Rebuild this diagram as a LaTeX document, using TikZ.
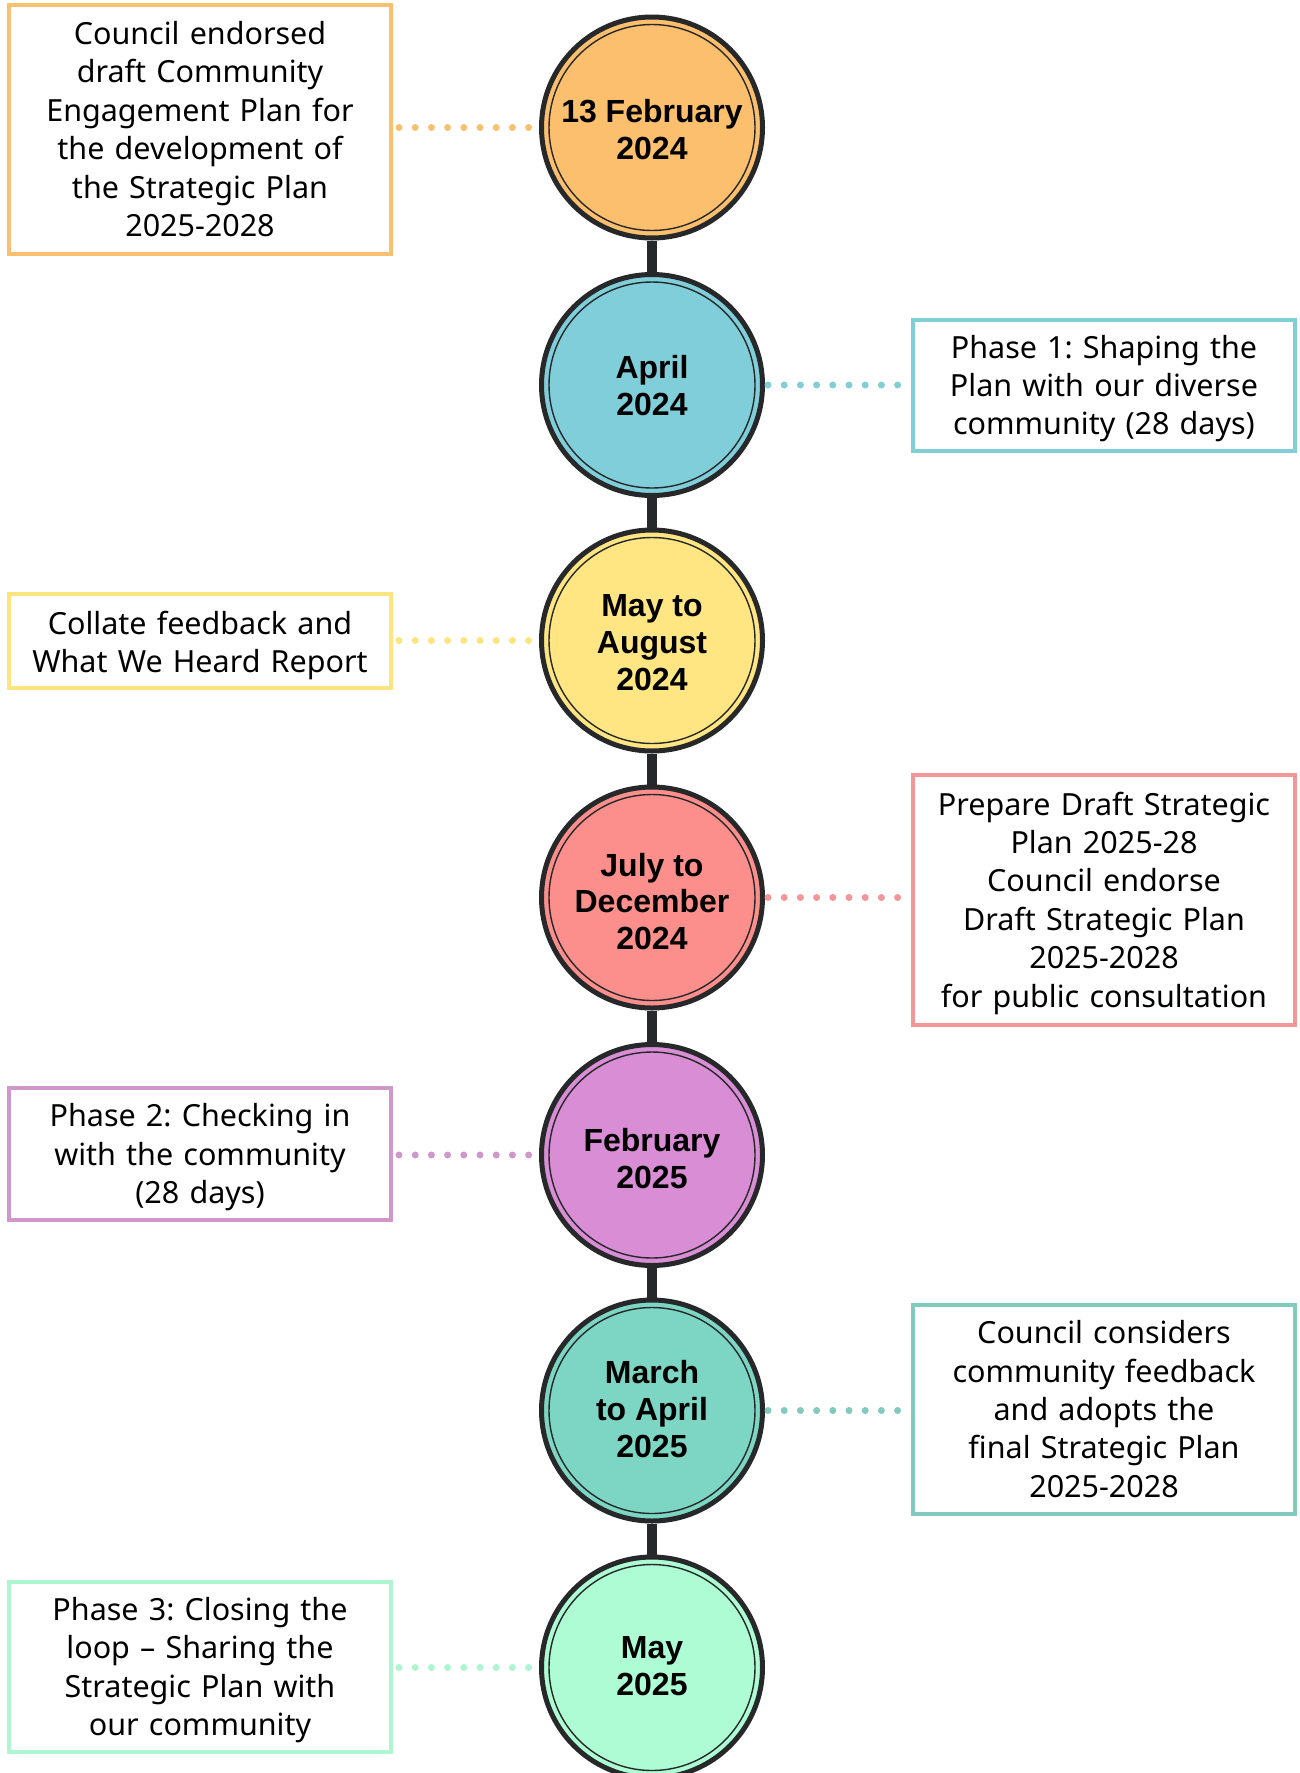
\documentclass[tikz,border=0pt]{standalone}
\usepackage{fontspec}
\setmainfont{Noto Sans}
\newfontfamily\datefont{Liberation Sans}
\frenchspacing

\definecolor{ringdark}{HTML}{262829}
\definecolor{orangefill}{HTML}{FCBF6E}
\definecolor{orangeline}{HTML}{F9C06F}
\definecolor{cyanfill}{HTML}{80CED9}
\definecolor{cyanline}{HTML}{82CED6}
\definecolor{yellowfill}{HTML}{FFE682}
\definecolor{yellowline}{HTML}{FCE57F}
\definecolor{redfill}{HTML}{FC8F8B}
\definecolor{redline}{HTML}{F39697}
\definecolor{purplefill}{HTML}{D88DD5}
\definecolor{purpleline}{HTML}{CF97CA}
\definecolor{tealfill}{HTML}{7DD6C4}
\definecolor{tealline}{HTML}{82CABD}
\definecolor{greenfill}{HTML}{AEFCD4}
\definecolor{greenline}{HTML}{AEF6D2}

\begin{document}
\begin{tikzpicture}[x=1pt,y=-1pt,
  datecircle/.style={circle, draw=ringdark, line width=5pt, minimum size=221pt,
    inner sep=0pt},
  datetext/.style={inner sep=0pt, align=center,
    font=\datefont\bfseries\fontsize{32}{36.8}\selectfont},
  innerring/.style={draw=ringdark, line width=1.4pt},
  spine/.style={draw=ringdark, line width=10pt},
  infobox/.style={rectangle, line width=4pt, fill=white, minimum width=382pt,
    inner sep=0pt, align=center, text width=376pt,
    execute at begin node={\rule{0pt}{30.2pt}},
    execute at end node={\rule[-8.2pt]{0pt}{8.2pt}},
    font=\fontsize{30.5}{38.4}\selectfont},
  leftlink/.style={line width=7pt, line cap=round, dash pattern=on 0pt off 16.2pt,
    shorten <=6pt, shorten >=8pt},
  rightlink/.style={line width=7pt, line cap=round, dash pattern=on 0pt off 16.2pt,
    shorten <=3pt, shorten >=13pt}
]
\useasboundingbox (0,0) rectangle (1300,1773);
\fill[white] (0,0) rectangle (1300,1773);

% timeline circles
\node[datecircle, fill=orangefill] (c1) at (652,127.5)  {};
\node[datecircle, fill=cyanfill]   (c2) at (652,385)    {};
\node[datecircle, fill=yellowfill] (c3) at (652,640.5)  {};
\node[datecircle, fill=redfill]    (c4) at (652,897.5)  {};
\node[datecircle, fill=purplefill] (c5) at (652,1155)   {};
\node[datecircle, fill=tealfill]   (c6) at (652,1410.5) {};
\node[datecircle, fill=greenfill]  (c7) at (652,1667.5) {};

\foreach \c in {c1,c2,c3,c4,c5,c6,c7}
  \draw[innerring] (\c) circle (103pt);

% dates inside the circles
\node[datetext, yshift=-2pt]   (t1) at (c1) {13 February\\2024};
\node[datetext, yshift=-0.5pt] (t2) at (c2) {April\\2024};
\node[datetext, yshift=-2pt]   (t3) at (c3) {May to\\August\\2024};
\node[datetext, yshift=-4pt]   (t4) at (c4) {July to\\December\\2024};
\node[datetext, yshift=-3.5pt] (t5) at (c5) {February\\2025};
\node[datetext, yshift=1.5pt]  (t6) at (c6) {March\\to April\\2025};
\node[datetext, yshift=1pt]    (t7) at (c7) {May\\2025};

% spine between circles
\draw[spine] (c1) -- (c2);
\draw[spine] (c2) -- (c3);
\draw[spine] (c3) -- (c4);
\draw[spine] (c4) -- (c5);
\draw[spine] (c5) -- (c6);
\draw[spine] (c6) -- (c7);

% description boxes
\node[infobox, draw=orangeline, minimum height=249pt] (b1) at (200,129.5)
  {Council endorsed\\draft Community\\Engagement Plan for\\the development of\\the Strategic Plan\\2025-2028};
\node[infobox, draw=cyanline, minimum height=131pt] (b2) at (1104,385.5)
  {Phase 1: Shaping the\\Plan with our diverse\\community (28 days)};
\node[infobox, draw=yellowline, minimum height=94pt] (b3) at (200,641)
  {\raisebox{-2pt}{Collate feedback and}\\\raisebox{-2pt}{What We Heard Report}};
\node[infobox, draw=redline, minimum height=250pt] (b4) at (1104,900)
  {Prepare Draft Strategic\\Plan 2025-28\\Council endorse\\Draft Strategic Plan\\2025-2028\\for public consultation};
\node[infobox, draw=purpleline, minimum height=132pt] (b5) at (200,1154)
  {Phase 2: Checking in\\with the community\\(28 days)};
\node[infobox, draw=tealline, minimum height=209pt] (b6) at (1104,1409.5)
  {Council considers\\community feedback\\and adopts the\\final Strategic Plan\\2025-2028};
\node[infobox, draw=greenline, minimum height=170pt] (b7) at (200,1667)
  {Phase 3: Closing the\\loop -- Sharing the\\Strategic Plan with\\our community};

% dotted links
\draw[leftlink, orangeline]  (b1.east |- c1) -- (c1.west);
\draw[rightlink, cyanline]   (c2.east) -- (b2.west |- c2);
\draw[leftlink, yellowline]  (b3.east |- c3) -- (c3.west);
\draw[rightlink, redline]    (c4.east) -- (b4.west |- c4);
\draw[leftlink, purpleline]  (b5.east |- c5) -- (c5.west);
\draw[rightlink, tealline]   (c6.east) -- (b6.west |- c6);
\draw[leftlink, greenline]   (b7.east |- c7) -- (c7.west);
\end{tikzpicture}
\end{document}
